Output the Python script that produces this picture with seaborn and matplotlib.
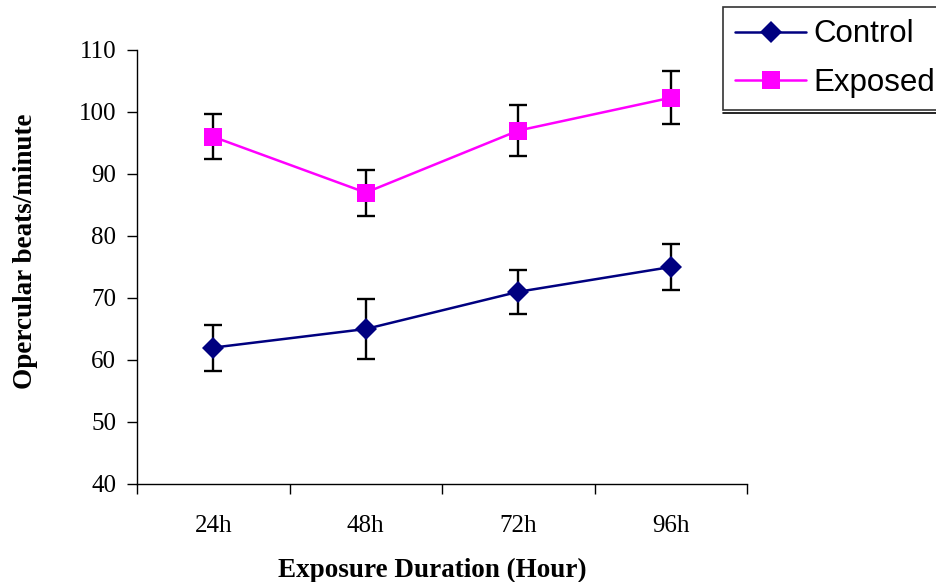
import numpy as np
import pandas as pd
import matplotlib
matplotlib.use('Agg')
import matplotlib.pyplot as plt
from matplotlib.lines import Line2D
import seaborn as sns

sns.set_style('white')
plt.rcParams['font.family'] = ['Liberation Serif', 'DejaVu Serif']
plt.rcParams['text.color'] = 'black'
plt.rcParams['axes.labelcolor'] = 'black'
plt.rcParams['xtick.color'] = 'black'
plt.rcParams['ytick.color'] = 'black'

durations = ['24h', '48h', '72h', '96h']
control = [62, 65, 71, 75]
control_err = [3.7, 4.8, 3.5, 3.7]
exposed = [96, 87, 97, 102.3]
exposed_err = [3.6, 3.7, 4.1, 4.3]

df = pd.DataFrame({
    'duration': durations * 2,
    'beats': control + exposed,
    'group': ['Control'] * 4 + ['Exposed'] * 4,
})

fig = plt.figure(figsize=(9.37, 5.82), dpi=100)
ax = fig.add_axes([137 / 937, 1 - 484 / 582, 610 / 937, 434 / 582])

colors = {'Control': '#000080', 'Exposed': '#FF00FF'}
xpos = np.arange(len(durations))

# error bars first so the markers sit on top
ax.errorbar(xpos, control, yerr=control_err, fmt='none', ecolor='black',
            elinewidth=1.7, capsize=6.5, capthick=1.7, zorder=2)
ax.errorbar(xpos, exposed, yerr=exposed_err, fmt='none', ecolor='black',
            elinewidth=1.7, capsize=6.5, capthick=1.7, zorder=2)

sns.lineplot(data=df[df.group == 'Control'], x='duration', y='beats',
             color=colors['Control'], marker='D', markersize=11,
             markeredgewidth=0, linewidth=1.8, ax=ax, zorder=3, label='Control')
sns.lineplot(data=df[df.group == 'Exposed'], x='duration', y='beats',
             color=colors['Exposed'], marker='s', markersize=13,
             markeredgewidth=0, linewidth=1.8, ax=ax, zorder=3, label='Exposed')

ax.set_xlim(-0.5, 3.5)
ax.set_ylim(40, 110)
ax.set_yticks(range(40, 111, 10))

# tick marks between the categories, labels at the centres
ax.set_xticks(np.arange(-0.5, 3.6, 1.0))
ax.set_xticklabels([])
ax.set_xticks(xpos, minor=True)
ax.set_xticklabels(durations, minor=True)
ax.tick_params(axis='x', which='major', direction='out', length=7, width=1,
               bottom=True)
ax.tick_params(axis='x', which='minor', length=0, pad=22, labelsize=18)
ax.tick_params(axis='y', direction='out', length=7, width=1,
               left=True, pad=8, labelsize=18)

for side in ['top', 'right']:
    ax.spines[side].set_visible(False)
for side in ['left', 'bottom']:
    ax.spines[side].set_color('black')
    ax.spines[side].set_linewidth(1)

ax.set_xlabel('Exposure Duration (Hour)', fontsize=19.5, fontweight='bold',
              va='center')
ax.xaxis.set_label_coords((432 - 137) / 610, -(570 - 484) / 434)
ax.set_ylabel('Opercular beats/minute', fontsize=19.5, fontweight='bold',
              va='center')
ax.yaxis.set_label_coords(-(137 - 26) / 610, (484 - 251) / 434)

handles, labels = ax.get_legend_handles_labels()
ax.get_legend().remove()
leg = fig.legend(handles, labels, loc='upper left',
                 bbox_to_anchor=(723 / 937, 1 - 7 / 582), borderaxespad=0,
                 frameon=True, fancybox=False, edgecolor='black',
                 borderpad=0.4, handlelength=2.25, handletextpad=0.25,
                 labelspacing=0.58,
                 prop={'family': 'Liberation Sans', 'size': 22.5})
leg.get_frame().set_linewidth(1.2)

# thin second line under the legend box, as in the original
fig.canvas.draw()
bb = leg.get_window_extent()
y_line = (bb.y0 - 3) / fig.bbox.height
fig.add_artist(Line2D([bb.x0 / fig.bbox.width, 1.0], [y_line, y_line],
                      transform=fig.transFigure, color='black', linewidth=1.2))

fig.savefig('out.png', dpi=100)
